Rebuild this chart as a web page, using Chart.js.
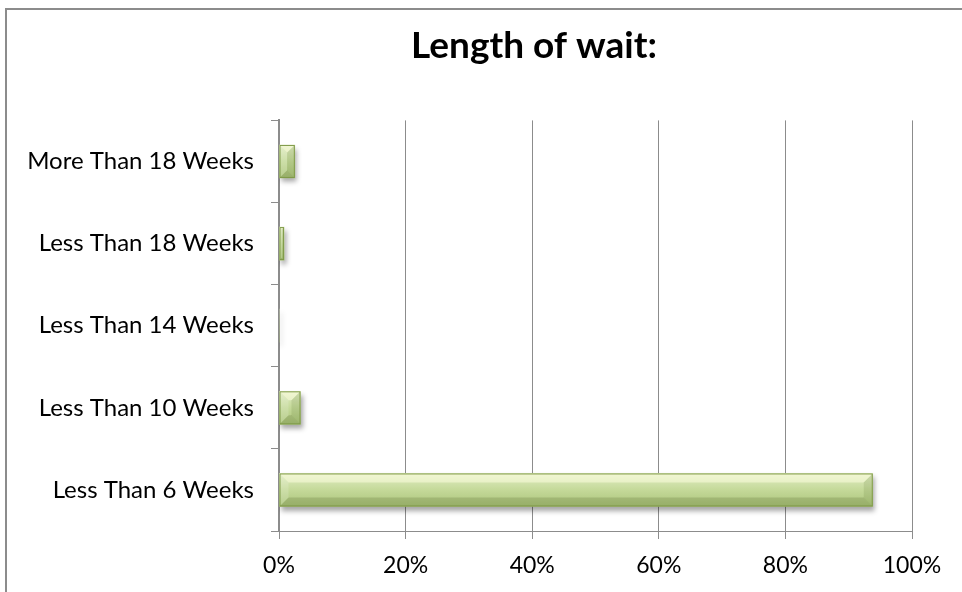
<!DOCTYPE html>
<html>
<head>
<meta charset="utf-8">
<script src="https://cdn.jsdelivr.net/npm/chart.js@4"></script>
<style>
    html, body { margin: 0; padding: 0; background: #fff; overflow: hidden; }
    .frame {
        position: absolute; left: 5px; top: 8px;
        width: 1100px; height: 700px;
        border: 2px solid #8c8c8c;
    }
    .wrap { position: absolute; left: 0; top: 0; width: 962px; height: 592px; }
</style>
</head>
<body>
<div class="frame"></div>
<div class="wrap"><canvas id="waitChart" width="962" height="592"></canvas></div>
<script>
// categories, top to bottom as they appear on the chart
const waitCategories = [
    'More Than 18 Weeks',
    'Less Than 18 Weeks',
    'Less Than 14 Weeks',
    'Less Than 10 Weeks',
    'Less Than 6 Weeks'
];
// share of responses, percent
const waitShare = [2.5, 0.8, 0, 3.4, 93.8];
const xTickMax = 100;
const xTickStep = 20;

const GRID = '#8c8c8c';
const FONT = "Lato, 'Open Sans', sans-serif";
const BAR_H = 33;

// the original title sits right of the canvas centre
const titleShift = {
    id: 'titleShift',
    afterLayout: (chart) => {
        if (chart.titleBlock) chart.titleBlock.left += 156;
    }
};

// soft drop shadow under the bars
const barShadow = {
    id: 'barShadow',
    beforeDatasetsDraw: (chart) => {
        const ctx = chart.ctx;
        ctx.save();
        ctx.shadowColor = 'rgba(0,0,0,0.35)';
        ctx.shadowBlur = 5;
        ctx.shadowOffsetX = 2;
        ctx.shadowOffsetY = 4;
    },
    afterDatasetsDraw: (chart) => {
        chart.ctx.restore();
    }
};

// Excel-ish bevel on each bar
const barBevel = {
    id: 'barBevel',
    afterDatasetsDraw: (chart) => {
        const ctx = chart.ctx;
        chart.getDatasetMeta(0).data.forEach(bar => {
            const left = Math.min(bar.base, bar.x);
            const right = Math.max(bar.base, bar.x);
            const top = bar.y - bar.height / 2;
            const bottom = bar.y + bar.height / 2;
            const w = right - left;
            if (!(w >= 1)) return;
            const b = Math.min(9, w / 2, bar.height / 2);
            const poly = (pts, fill) => {
                ctx.beginPath();
                ctx.moveTo(pts[0][0], pts[0][1]);
                pts.slice(1).forEach(p => ctx.lineTo(p[0], p[1]));
                ctx.closePath();
                ctx.fillStyle = fill;
                ctx.fill();
            };
            ctx.save();
            poly([[left, top], [right, top], [right - b, top + b], [left + b, top + b]], 'rgba(255,255,225,0.5)');
            poly([[left, bottom], [right, bottom], [right - b, bottom - b], [left + b, bottom - b]], 'rgba(60,80,20,0.18)');
            poly([[left, top], [left + b, top + b], [left + b, bottom - b], [left, bottom]], 'rgba(255,255,255,0.15)');
            poly([[right, top], [right - b, top + b], [right - b, bottom - b], [right, bottom]], 'rgba(60,80,20,0.12)');
            ctx.strokeStyle = '#7f9a48';
            ctx.lineWidth = 1;
            ctx.strokeRect(left + 0.5, top + 0.5, w - 1, bar.height - 1);
            ctx.restore();
        });
    }
};

const ctx = document.getElementById('waitChart').getContext('2d');
new Chart(ctx, {
    type: 'bar',
    plugins: [titleShift, barShadow, barBevel],
    data: {
        labels: waitCategories,
        datasets: [{
            data: waitShare,
            backgroundColor: (c) => {
                const chart = c.chart;
                const yScale = chart.scales.y;
                if (!chart.chartArea || !yScale) return '#c3d69b';
                const top = yScale.getPixelForValue(c.dataIndex) - BAR_H / 2;
                if (!isFinite(top)) return '#c3d69b';
                const g = chart.ctx.createLinearGradient(0, top, 0, top + BAR_H);
                g.addColorStop(0, '#e2edc4');
                g.addColorStop(0.5, '#c4d999');
                g.addColorStop(1, '#abc47a');
                return g;
            },
            borderWidth: 0,
            barThickness: BAR_H
        }]
    },
    options: {
        indexAxis: 'y',
        responsive: false,
        animation: false,
        layout: { padding: { left: 0, right: 50, top: 0, bottom: 0 } },
        plugins: {
            legend: { display: false },
            tooltip: { enabled: false },
            title: {
                display: true,
                text: 'Length of wait:',
                color: '#000',
                font: { family: FONT, size: 37, weight: 'bold', lineHeight: 1.2 },
                padding: { top: 24, bottom: 52 }
            }
        },
        scales: {
            x: {
                min: 0,
                max: xTickMax,
                afterFit: (s) => { s.height = 61; },
                ticks: {
                    stepSize: xTickStep,
                    callback: (v) => v + '%',
                    color: '#000',
                    padding: 13,
                    font: { family: FONT, size: 23 }
                },
                grid: { color: GRID, lineWidth: 1, tickLength: 8 },
                border: { color: GRID, width: 1 }
            },
            y: {
                afterFit: (s) => { s.width = 279; },
                ticks: {
                    color: '#000',
                    padding: 17,
                    font: { family: FONT, size: 24 }
                },
                grid: { offset: true, drawOnChartArea: false, color: GRID, tickLength: 8 },
                border: { color: GRID, width: 2 }
            }
        }
    }
});
</script>
</body>
</html>
